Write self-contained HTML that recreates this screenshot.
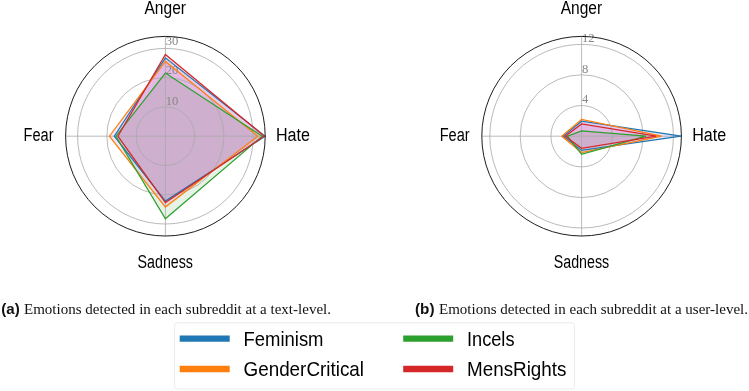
<!DOCTYPE html>
<html><head><meta charset="utf-8">
<style>
html,body{margin:0;padding:0;background:#fff;}
body{width:749px;height:391px;overflow:hidden;position:relative;font-family:"Liberation Sans",sans-serif;}
svg{position:absolute;left:0;top:0;will-change:transform;}
.lab{font-family:"Liberation Sans",sans-serif;font-size:17.6px;fill:#000;}
.tick{font-family:"Liberation Serif",serif;font-size:13px;fill:#868686;}
.cap{font-family:"Liberation Serif",serif;font-size:15px;fill:#111;}
.capb{font-family:"Liberation Sans",sans-serif;font-weight:bold;font-size:14.3px;fill:#111;}
.leg{font-family:"Liberation Sans",sans-serif;font-size:20.3px;fill:#000;}
</style></head><body>
<svg width="749" height="391" viewBox="0 0 749 391">
<rect width="749" height="391" fill="#fff"/>
<!-- left chart -->
<g transform="translate(165.4,136.2)">
  <g stroke="none" fill-opacity="0.1">
    <polygon points="99.7,0 0,-78.4 -51.1,0 0,64.9" fill="#0000ff"/>
    <polygon points="92.4,0 0,-74.8 -56,0 0,70.9" fill="#bf00bf"/>
    <polygon points="96.8,0 0,-63.2 -49.5,0 0,82.6" fill="#008000"/>
    <polygon points="98.9,0 0,-81.8 -47.5,0 0,66.4" fill="#ff0040"/>
  </g>
  <g fill="none" stroke="#a8a8a8" stroke-width="0.8">
    <circle r="29.3"/><circle r="58.6"/><circle r="87.8"/>
    <line x1="-100" y1="0" x2="100" y2="0"/><line x1="0" y1="-100" x2="0" y2="100"/>
  </g>
  <text class="tick" x="0.3" y="-90.9" textLength="12.6" lengthAdjust="spacingAndGlyphs">30</text>
  <text class="tick" x="0.3" y="-61.8" textLength="12.6" lengthAdjust="spacingAndGlyphs">20</text>
  <text class="tick" x="0.3" y="-31.6" textLength="12.6" lengthAdjust="spacingAndGlyphs">10</text>
  <g stroke-width="1.25" stroke-linejoin="miter" fill="none">
    <polygon points="99.7,0 0,-78.4 -51.1,0 0,64.9" stroke="#1f77b4"/>
    <polygon points="92.4,0 0,-74.8 -56,0 0,70.9" stroke="#ff7f0e"/>
    <polygon points="96.8,0 0,-63.2 -49.5,0 0,82.6" stroke="#2ca02c"/>
    <polygon points="98.9,0 0,-81.8 -47.5,0 0,66.4" stroke="#d62728"/>
  </g>
  <circle r="99.8" fill="none" stroke="#111" stroke-width="0.95"/>
</g>
<text class="lab" x="144.5" y="13.7" textLength="41.5" lengthAdjust="spacingAndGlyphs">Anger</text>
<text class="lab" x="276" y="140.6" textLength="34" lengthAdjust="spacingAndGlyphs">Hate</text>
<text class="lab" x="23.5" y="140.6" textLength="30" lengthAdjust="spacingAndGlyphs">Fear</text>
<text class="lab" x="137.5" y="268" textLength="55.5" lengthAdjust="spacingAndGlyphs">Sadness</text>

<!-- right chart -->
<g transform="translate(581.6,136.2)">
  <g stroke="none" fill-opacity="0.1">
    <polygon points="99.5,0 0,-15 -18.3,0 0,14.2" fill="#0000ff"/>
    <polygon points="80,0 0,-16.7 -19.9,0 0,16.4" fill="#bf00bf"/>
    <polygon points="64.3,0 0,-5.2 -14.2,0 0,18.2" fill="#008000"/>
    <polygon points="74.7,0 0,-12.3 -16.3,0 0,12.1" fill="#ff0040"/>
  </g>
  <g fill="none" stroke="#a8a8a8" stroke-width="0.8">
    <circle r="30.7"/><circle r="61.4"/><circle r="91.8"/>
    <line x1="-100" y1="0" x2="100" y2="0"/><line x1="0" y1="-100" x2="0" y2="100"/>
  </g>
  <text class="tick" x="0.3" y="-94.7" textLength="12.6" lengthAdjust="spacingAndGlyphs">12</text>
  <text class="tick" x="0.3" y="-63.6" textLength="6.3" lengthAdjust="spacingAndGlyphs">8</text>
  <text class="tick" x="0.3" y="-33.4" textLength="6.3" lengthAdjust="spacingAndGlyphs">4</text>
  <g stroke-width="1.25" stroke-linejoin="miter" fill="none">
    <polygon points="99.5,0 0,-15 -18.3,0 0,14.2" stroke="#1f77b4"/>
    <polygon points="80,0 0,-16.7 -19.9,0 0,16.4" stroke="#ff7f0e"/>
    <polygon points="64.3,0 0,-5.2 -14.2,0 0,18.2" stroke="#2ca02c"/>
    <polygon points="74.7,0 0,-12.3 -16.3,0 0,12.1" stroke="#d62728"/>
  </g>
  <circle r="99.8" fill="none" stroke="#111" stroke-width="0.95"/>
</g>
<text class="lab" x="560.7" y="13.7" textLength="41.5" lengthAdjust="spacingAndGlyphs">Anger</text>
<text class="lab" x="692.2" y="140.6" textLength="34" lengthAdjust="spacingAndGlyphs">Hate</text>
<text class="lab" x="439.7" y="140.6" textLength="30" lengthAdjust="spacingAndGlyphs">Fear</text>
<text class="lab" x="553.7" y="268" textLength="55.5" lengthAdjust="spacingAndGlyphs">Sadness</text>

<!-- captions -->
<text class="capb" x="1.3" y="313.8" textLength="18.5" lengthAdjust="spacingAndGlyphs">(a)</text>
<text class="cap" x="24" y="313.8" textLength="307" lengthAdjust="spacingAndGlyphs">Emotions detected in each subreddit at a text-level.</text>
<text class="capb" x="415" y="313.8" textLength="19.5" lengthAdjust="spacingAndGlyphs">(b)</text>
<text class="cap" x="439" y="313.8" textLength="309" lengthAdjust="spacingAndGlyphs">Emotions detected in each subreddit at a user-level.</text>

<!-- legend -->
<rect x="174.6" y="322.8" width="400" height="66.2" rx="2.5" ry="2.5" fill="#fff" stroke="#ececec" stroke-width="1"/>
<g stroke-width="6.4">
<line x1="179.7" y1="338.6" x2="229.7" y2="338.6" stroke="#1f77b4"/>
<line x1="179.7" y1="369" x2="229.7" y2="369" stroke="#ff7f0e"/>
<line x1="403.2" y1="338.6" x2="453.2" y2="338.6" stroke="#2ca02c"/>
<line x1="403.2" y1="369" x2="453.2" y2="369" stroke="#d62728"/>
</g>
<text class="leg" x="243.5" y="346" textLength="80" lengthAdjust="spacingAndGlyphs">Feminism</text>
<text class="leg" x="243.5" y="376.3" textLength="120.5" lengthAdjust="spacingAndGlyphs">GenderCritical</text>
<text class="leg" x="467" y="346" textLength="47.5" lengthAdjust="spacingAndGlyphs">Incels</text>
<text class="leg" x="467" y="376.3" textLength="99.5" lengthAdjust="spacingAndGlyphs">MensRights</text>
</svg>
</body></html>
